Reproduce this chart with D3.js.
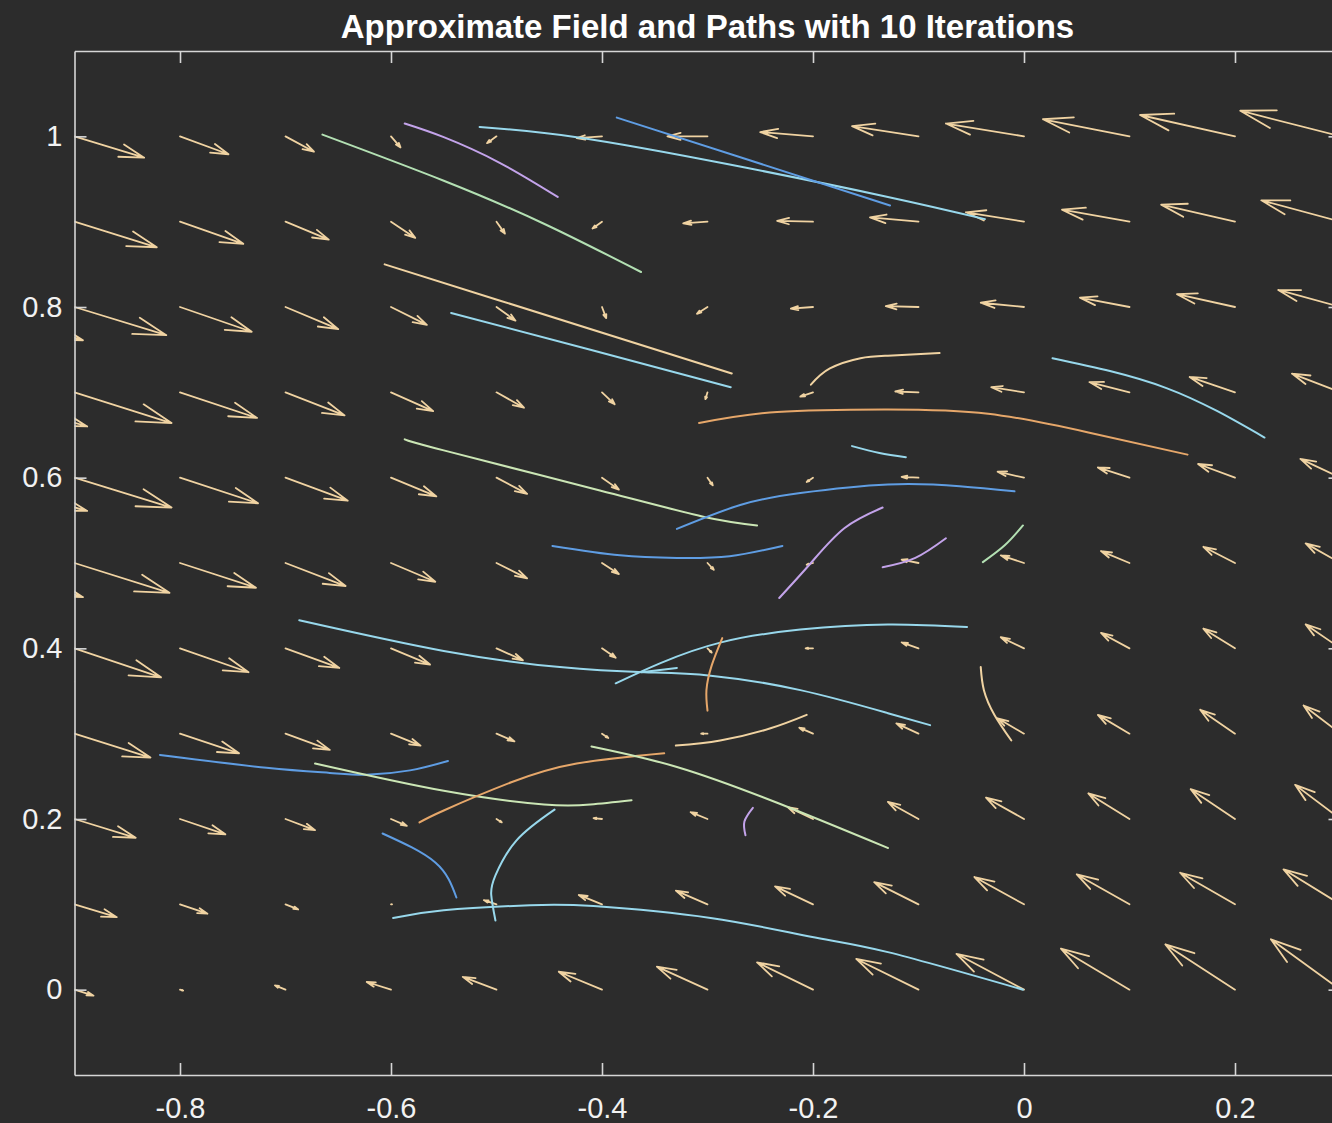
<!DOCTYPE html>
<html>
<head>
<meta charset="utf-8">
<script src="https://cdn.jsdelivr.net/npm/d3@7"></script>
<style>
  body { margin: 0; background: #2c2c2c; }
  svg { display: block; }
</style>
</head>
<body>
<div id="chart"></div>
<script>
// Quiver grid (the -1.0 column sits just outside the axes and is clipped)
const gridX = [-1.0, -0.9, -0.8, -0.7, -0.6, -0.5, -0.4, -0.3, -0.2, -0.1, 0, 0.1, 0.2, 0.3];
const gridY = [0, 0.1, 0.2, 0.3, 0.4, 0.5, 0.6, 0.7, 0.8, 0.9, 1.0];

// Scaled field components, one row per gridY value
const U = [
  [0.032, 0.018, 0.003, -0.010, -0.023, -0.032, -0.041, -0.048, -0.053, -0.059, -0.064, -0.065, -0.066, -0.066],
  [0.053, 0.040, 0.026, 0.012, 0.001, -0.012, -0.022, -0.030, -0.036, -0.042, -0.047, -0.050, -0.052, -0.054],
  [0.072, 0.058, 0.043, 0.028, 0.015, 0.005, -0.008, -0.016, -0.024, -0.029, -0.036, -0.039, -0.042, -0.043],
  [0.087, 0.072, 0.056, 0.042, 0.028, 0.017, 0.006, -0.006, -0.013, -0.021, -0.025, -0.030, -0.033, -0.035],
  [0.099, 0.082, 0.065, 0.051, 0.037, 0.025, 0.013, 0.004, -0.007, -0.016, -0.022, -0.027, -0.030, -0.033],
  [0.108, 0.090, 0.072, 0.057, 0.042, 0.029, 0.016, 0.006, -0.006, -0.016, -0.022, -0.027, -0.030, -0.033],
  [0.112, 0.092, 0.074, 0.059, 0.043, 0.029, 0.016, 0.005, -0.006, -0.016, -0.025, -0.030, -0.035, -0.038],
  [0.112, 0.092, 0.073, 0.056, 0.040, 0.026, 0.012, -0.002, -0.012, -0.022, -0.031, -0.038, -0.043, -0.046],
  [0.108, 0.087, 0.068, 0.050, 0.034, 0.018, 0.004, -0.010, -0.021, -0.031, -0.041, -0.047, -0.055, -0.059],
  [0.095, 0.078, 0.060, 0.041, 0.023, 0.008, -0.009, -0.023, -0.034, -0.046, -0.055, -0.064, -0.070, -0.075],
  [0.081, 0.066, 0.046, 0.027, 0.009, -0.009, -0.024, -0.038, -0.050, -0.063, -0.074, -0.082, -0.090, -0.095]
];
const V = [
  [-0.012, -0.007, -0.001, 0.005, 0.009, 0.015, 0.021, 0.027, 0.032, 0.036, 0.042, 0.048, 0.053, 0.059],
  [-0.020, -0.015, -0.011, -0.006, 0.000, 0.005, 0.011, 0.016, 0.021, 0.026, 0.032, 0.035, 0.037, 0.041],
  [-0.027, -0.022, -0.018, -0.013, -0.008, -0.004, 0.001, 0.008, 0.014, 0.020, 0.025, 0.030, 0.035, 0.040],
  [-0.033, -0.028, -0.023, -0.019, -0.014, -0.009, -0.005, 0.000, 0.007, 0.012, 0.018, 0.022, 0.028, 0.033],
  [-0.039, -0.034, -0.028, -0.023, -0.019, -0.014, -0.011, -0.005, 0.000, 0.007, 0.013, 0.018, 0.023, 0.028],
  [-0.040, -0.035, -0.029, -0.027, -0.022, -0.018, -0.013, -0.008, -0.002, 0.004, 0.009, 0.014, 0.019, 0.023],
  [-0.039, -0.035, -0.030, -0.027, -0.022, -0.019, -0.014, -0.009, -0.005, 0.001, 0.007, 0.012, 0.016, 0.022],
  [-0.040, -0.036, -0.030, -0.027, -0.022, -0.018, -0.014, -0.008, -0.005, 0.001, 0.006, 0.012, 0.018, 0.022],
  [-0.039, -0.033, -0.029, -0.026, -0.021, -0.016, -0.013, -0.008, -0.002, 0.001, 0.005, 0.011, 0.015, 0.020],
  [-0.035, -0.030, -0.026, -0.021, -0.019, -0.014, -0.008, -0.002, 0.001, 0.005, 0.011, 0.014, 0.020, 0.025],
  [-0.029, -0.025, -0.021, -0.018, -0.013, -0.008, -0.002, 0.000, 0.005, 0.012, 0.015, 0.020, 0.025, 0.030]
];

// Path colour group, one per traced path
const pathHue = ["green", "purple", "cyan", "blue", "tan", "cyan", "tan", "orange", "cyan", "cyan",
  "lime", "blue", "blue", "purple", "purple", "green", "cyan", "cyan", "orange", "cyan",
  "tan", "tan", "blue", "lime", "orange", "lime", "purple", "blue", "cyan", "cyan"];

// Points along each path [x, y]
const pathPts = [
  [[-0.665, 1.002], [-0.550, 0.948], [-0.454, 0.897], [-0.363, 0.841]],
  [[-0.587, 1.015], [-0.550, 0.999], [-0.497, 0.969], [-0.442, 0.929]],
  [[-0.516, 1.011], [-0.424, 0.999], [-0.279, 0.967], [-0.129, 0.929], [-0.037, 0.903]],
  [[-0.386, 1.022], [-0.260, 0.972], [-0.127, 0.919]],
  [[-0.606, 0.850], [-0.498, 0.808], [-0.277, 0.722]],
  [[-0.543, 0.793], [-0.411, 0.750], [-0.278, 0.706]],
  [[-0.202, 0.709], [-0.184, 0.728], [-0.155, 0.740], [-0.129, 0.743], [-0.080, 0.746]],
  [[-0.308, 0.664], [-0.234, 0.677], [-0.129, 0.680], [-0.034, 0.675], [0.061, 0.653], [0.155, 0.627]],
  [[-0.163, 0.637], [-0.137, 0.629], [-0.112, 0.624]],
  [[0.027, 0.740], [0.135, 0.705], [0.228, 0.647]],
  [[-0.587, 0.645], [-0.550, 0.632], [-0.402, 0.585], [-0.303, 0.554], [-0.253, 0.544]],
  [[-0.329, 0.540], [-0.269, 0.568], [-0.212, 0.582], [-0.129, 0.592], [-0.061, 0.590], [-0.009, 0.584]],
  [[-0.447, 0.520], [-0.383, 0.509], [-0.329, 0.506], [-0.279, 0.508], [-0.229, 0.520]],
  [[-0.232, 0.459], [-0.202, 0.500], [-0.170, 0.541], [-0.134, 0.565]],
  [[-0.134, 0.495], [-0.103, 0.506], [-0.074, 0.529]],
  [[-0.039, 0.501], [-0.018, 0.521], [-0.001, 0.544]],
  [[-0.687, 0.433], [-0.550, 0.397], [-0.440, 0.378], [-0.360, 0.372], [-0.297, 0.368], [-0.212, 0.351], [-0.129, 0.324], [-0.089, 0.310]],
  [[-0.387, 0.359], [-0.344, 0.383], [-0.287, 0.407], [-0.212, 0.422], [-0.129, 0.428], [-0.054, 0.425]],
  [[-0.286, 0.412], [-0.296, 0.380], [-0.301, 0.351], [-0.300, 0.327]],
  [[-0.363, 0.372], [-0.329, 0.377]],
  [[-0.330, 0.286], [-0.288, 0.292], [-0.241, 0.306], [-0.206, 0.322]],
  [[-0.041, 0.378], [-0.038, 0.351], [-0.028, 0.322], [-0.012, 0.292]],
  [[-0.819, 0.275], [-0.718, 0.260], [-0.658, 0.254], [-0.623, 0.252], [-0.582, 0.257], [-0.546, 0.268]],
  [[-0.672, 0.265], [-0.550, 0.233], [-0.455, 0.217], [-0.411, 0.217], [-0.372, 0.222]],
  [[-0.573, 0.196], [-0.550, 0.210], [-0.486, 0.243], [-0.424, 0.265], [-0.341, 0.277]],
  [[-0.410, 0.285], [-0.329, 0.261], [-0.234, 0.219], [-0.129, 0.166]],
  [[-0.257, 0.213], [-0.265, 0.197], [-0.264, 0.181]],
  [[-0.608, 0.183], [-0.558, 0.149], [-0.538, 0.108]],
  [[-0.445, 0.211], [-0.481, 0.175], [-0.501, 0.134], [-0.505, 0.111], [-0.501, 0.081]],
  [[-0.598, 0.084], [-0.550, 0.093], [-0.468, 0.099], [-0.408, 0.098], [-0.297, 0.084], [-0.202, 0.062], [-0.129, 0.044], [-0.001, 0.000]]
];

const xTicks = [-0.8, -0.6, -0.4, -0.2, 0, 0.2];
const yTicks = [0, 0.2, 0.4, 0.6, 0.8, 1];
const title = "Approximate Field and Paths with 10 Iterations";

const W = 1332, H = 1123;
const font = "'Liberation Sans', Arial, Helvetica, sans-serif";
const axisColor = "#d6d6d6";

const x = d3.scaleLinear().domain([-0.9, 0.3]).range([74.5, 1340.5]);
const y = d3.scaleLinear().domain([-0.1, 1.1]).range([1075, 51]);

const hue = d3.scaleOrdinal()
    .domain(["cyan", "blue", "green", "lime", "purple", "tan", "orange"])
    .range(["#98d8ec", "#5f9de3", "#b3e0b3", "#cbe6b5", "#c3a3ea", "#f0d3a2", "#e6a76a"]);

const svg = d3.select("#chart").append("svg")
    .attr("width", W)
    .attr("height", H);

svg.append("rect").attr("width", W).attr("height", H).attr("fill", "#2c2c2c");

svg.append("clipPath").attr("id", "plot-clip")
  .append("rect")
    .attr("x", x(-0.9)).attr("y", y(1.1))
    .attr("width", x(0.3) - x(-0.9))
    .attr("height", y(-0.1) - y(1.1));

const plot = svg.append("g").attr("clip-path", "url(#plot-clip)");

// quiver arrows, heads built like MATLAB's quiver
const alpha = 0.33, beta = 0.33;
const arrows = [];
gridY.forEach((gy, r) => gridX.forEach((gx, c) => {
  arrows.push({x: gx, y: gy, u: U[r][c], v: V[r][c]});
}));

const arrowPath = d => {
  const tx = d.x + d.u, ty = d.y + d.v;
  const b1x = tx - alpha * (d.u + beta * d.v), b1y = ty - alpha * (d.v - beta * d.u);
  const b2x = tx - alpha * (d.u - beta * d.v), b2y = ty - alpha * (d.v + beta * d.u);
  return `M${x(d.x)},${y(d.y)}L${x(tx)},${y(ty)}` +
         `M${x(b1x)},${y(b1y)}L${x(tx)},${y(ty)}L${x(b2x)},${y(b2y)}`;
};

plot.append("g")
  .selectAll("path")
  .data(arrows)
  .enter().append("path")
    .attr("d", arrowPath)
    .attr("fill", "none")
    .attr("stroke", "#f0d3a2")
    .attr("stroke-width", 1.8)
    .attr("stroke-linecap", "round")
    .attr("stroke-linejoin", "round");

// paths
const line = d3.line()
    .x(d => x(d[0]))
    .y(d => y(d[1]))
    .curve(d3.curveNatural);

plot.append("g")
  .selectAll("path")
  .data(pathPts)
  .enter().append("path")
    .attr("d", line)
    .attr("fill", "none")
    .attr("stroke", (d, i) => hue(pathHue[i]))
    .attr("stroke-width", 2)
    .attr("stroke-linecap", "round");

// axes box with inward ticks
const fmt = d => String(d);

const styleAxis = g => {
  g.select(".domain").attr("stroke", axisColor).attr("stroke-width", 1.6);
  g.selectAll(".tick line").attr("stroke", axisColor).attr("stroke-width", 1.6);
  g.selectAll(".tick text").attr("fill", "#f2f2f2");
  g.attr("font-family", font).attr("font-size", 29);
};

svg.append("g")
    .attr("transform", `translate(0,${y(-0.1)})`)
    .call(d3.axisBottom(x).tickValues(xTicks).tickFormat(fmt).tickSize(-12).tickSizeOuter(0).tickPadding(22))
    .call(styleAxis);

svg.append("g")
    .attr("transform", `translate(0,${y(1.1)})`)
    .call(d3.axisTop(x).tickValues(xTicks).tickFormat("").tickSize(-12).tickSizeOuter(0))
    .call(styleAxis);

svg.append("g")
    .attr("transform", `translate(${x(-0.9)},0)`)
    .call(d3.axisLeft(y).tickValues(yTicks).tickFormat(fmt).tickSize(-12).tickSizeOuter(0).tickPadding(12))
    .call(styleAxis);

svg.append("g")
    .attr("transform", `translate(${x(0.3)},0)`)
    .call(d3.axisRight(y).tickValues(yTicks).tickFormat("").tickSize(-12).tickSizeOuter(0))
    .call(styleAxis);

svg.append("text")
    .attr("x", (x(-0.9) + x(0.3)) / 2)
    .attr("y", 38)
    .attr("text-anchor", "middle")
    .attr("font-family", font)
    .attr("font-weight", "bold")
    .attr("font-size", 33)
    .attr("fill", "#ffffff")
    .text(title);
</script>
</body>
</html>
